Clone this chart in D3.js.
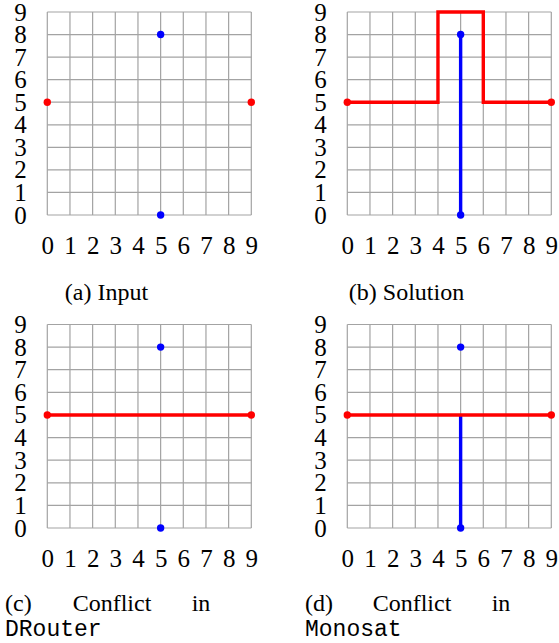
<!DOCTYPE html>
<html>
<head>
<meta charset="utf-8">
<script src="https://cdn.jsdelivr.net/npm/d3@7"></script>
<style>
  html, body { margin: 0; padding: 0; background: #fff; }
  svg { display: block; }
</style>
</head>
<body>
<svg id="chart" width="559" height="643"></svg>
<script>
// ---- data ----
const xTicks = [0, 1, 2, 3, 4, 5, 6, 7, 8, 9];
const yTicks = [0, 1, 2, 3, 4, 5, 6, 7, 8, 9];
const redPins = [[0, 5], [9, 5]];
const bluePins = [[5, 0], [5, 8]];
const solutionRed = [[0, 5], [4, 5], [4, 9], [6, 9], [6, 5], [9, 5]];
const solutionBlue = [[5, 0], [5, 8]];
const drouterRed = [[0, 5], [9, 5]];
const monosatRed = [[0, 5], [9, 5]];
const monosatBlue = [[5, 0], [5, 5]];
const captionA = "(a) Input";
const captionB = "(b) Solution";
const captionC = ["(c)", "Conflict", "in"];
const captionD = ["(d)", "Conflict", "in"];
const toolC = "DRouter";
const toolD = "Monosat";

// ---- layout ----
const svg = d3.select("#chart");
const serif = "'Liberation Serif', 'Times New Roman', serif";
const mono = "'Liberation Mono', 'Courier New', monospace";
const RED = "#ff0000", BLUE = "#0000ff", GRID = "#a3a3a3";
const TICK_FS = 25;

const panels = [
  { dx: 0,   top: 12,    bottom: 215, red: null,        blue: null,         caption: captionA },
  { dx: 300, top: 12,    bottom: 215, red: solutionRed, blue: solutionBlue, caption: captionB },
  { dx: 0,   top: 324.5, bottom: 528, red: drouterRed,  blue: null,         words: captionC, tool: toolC },
  { dx: 300, top: 324.5, bottom: 528, red: monosatRed,  blue: monosatBlue,  words: captionD, tool: toolD }
];

panels.forEach(p => {
  const x = d3.scaleLinear().domain([0, 9]).range([47.3 + p.dx, 251.3 + p.dx]);
  const y = d3.scaleLinear().domain([0, 9]).range([p.bottom, p.top]);
  const g = svg.append("g");

  // grid
  g.append("g").selectAll("line.v").data(xTicks).join("line")
    .attr("x1", d => x(d)).attr("x2", d => x(d))
    .attr("y1", y(0)).attr("y2", y(9))
    .attr("stroke", GRID).attr("stroke-width", 1.2);
  g.append("g").selectAll("line.h").data(yTicks).join("line")
    .attr("y1", d => y(d)).attr("y2", d => y(d))
    .attr("x1", x(0)).attr("x2", x(9))
    .attr("stroke", GRID).attr("stroke-width", 1.2);

  // axes (labels only)
  const ax = g.append("g").attr("transform", `translate(0,${y(0)})`)
    .call(d3.axisBottom(x).tickValues(xTicks).tickFormat(d3.format("d")).tickSize(0).tickPadding(21.5));
  const ay = g.append("g").attr("transform", `translate(${x(0)},0)`)
    .call(d3.axisLeft(y).tickValues(yTicks).tickFormat(d3.format("d")).tickSize(0).tickPadding(20.6));
  [ax, ay].forEach(a => {
    a.attr("font-family", serif).attr("font-size", TICK_FS);
    a.select(".domain").remove();
    a.selectAll("text").attr("font-family", serif).attr("font-size", TICK_FS).attr("fill", "#000");
  });

  const line = d3.line().x(d => x(d[0])).y(d => y(d[1]));
  if (p.blue) {
    g.append("path").attr("d", line(p.blue)).attr("fill", "none")
      .attr("stroke", BLUE).attr("stroke-width", 3.4);
  }
  if (p.red) {
    g.append("path").attr("d", line(p.red)).attr("fill", "none")
      .attr("stroke", RED).attr("stroke-width", 3.4).attr("stroke-linejoin", "miter");
  }
  g.append("g").selectAll("circle").data(bluePins).join("circle")
    .attr("cx", d => x(d[0])).attr("cy", d => y(d[1])).attr("r", 3.7).attr("fill", BLUE);
  g.append("g").selectAll("circle").data(redPins).join("circle")
    .attr("cx", d => x(d[0])).attr("cy", d => y(d[1])).attr("r", 3.7).attr("fill", RED);

  // captions
  if (p.caption) {
    g.append("text").attr("x", 106.5 + p.dx).attr("y", y(0) + 85)
      .attr("text-anchor", "middle").attr("font-family", serif).attr("font-size", 24)
      .attr("fill", "#000").text(p.caption);
  } else {
    const wx = [5, 72.7, 191.7];
    const t = g.append("text").attr("font-family", serif).attr("font-size", 24).attr("fill", "#000");
    p.words.forEach((w, i) => {
      t.append("tspan").attr("x", wx[i] + p.dx).attr("y", y(0) + 83).text(w);
    });
    g.append("text").attr("x", 5 + p.dx).attr("y", y(0) + 108)
      .attr("font-family", mono).attr("font-size", 23).attr("fill", "#000").text(p.tool);
  }
});
</script>
</body>
</html>
